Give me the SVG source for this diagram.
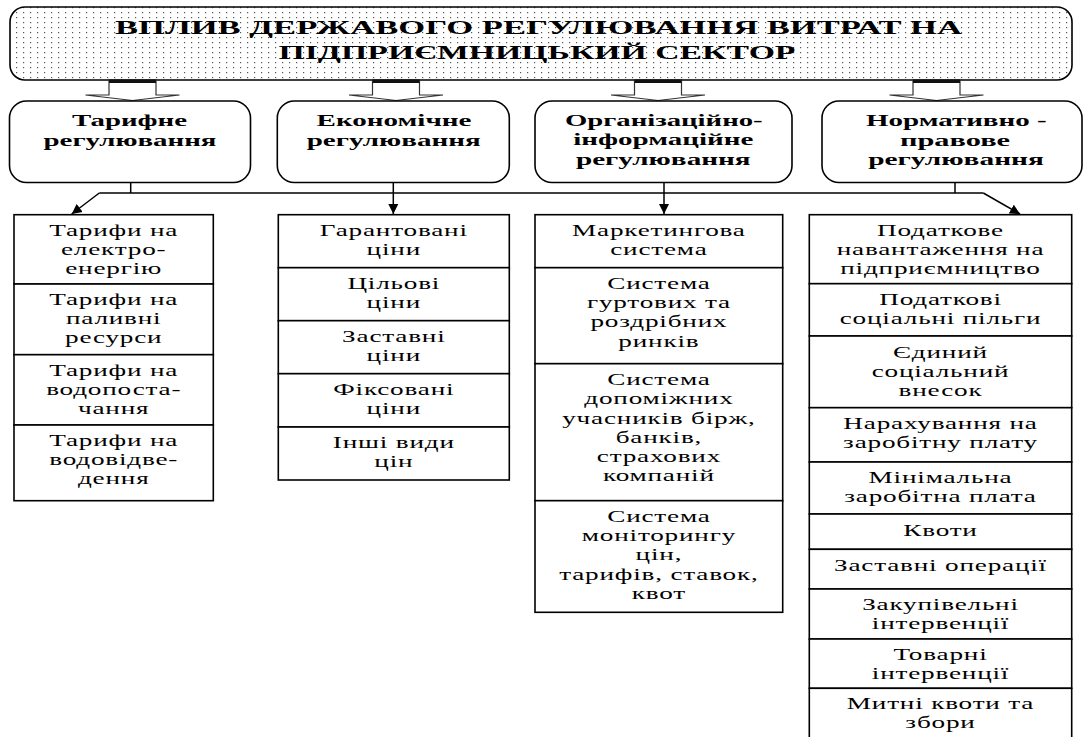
<svg xmlns="http://www.w3.org/2000/svg" width="1085" height="737" viewBox="0 0 1085 737">
<style>
.t{font-family:"Liberation Serif","Times New Roman",serif;font-size:17px;letter-spacing:0.5px;text-anchor:middle;fill:#000}
.h{font-family:"Liberation Serif","Times New Roman",serif;font-weight:bold;font-size:17px;text-anchor:middle;fill:#000}
.ti{font-family:"Liberation Serif","Times New Roman",serif;font-weight:bold;font-size:19px;text-anchor:middle;fill:#000}
.cell{fill:#fff;stroke:#000;stroke-width:1.6}
.hb{fill:#fff;stroke:#000;stroke-width:1.6}
.ln{fill:none;stroke:#000;stroke-width:1.5}
.ba{fill:#fff;stroke:#333;stroke-width:1.2}
.bar{fill:#111}
</style>
<defs>
<pattern id="dots" width="7" height="5" patternUnits="userSpaceOnUse">
<rect width="7" height="5" fill="#fff"/>
<rect x="2" y="2" width="1.2" height="1.2" fill="#555"/>
</pattern>
<marker id="ah" viewBox="0 0 10 10" refX="10" refY="5" markerUnits="userSpaceOnUse" markerWidth="10" markerHeight="11" orient="auto">
<path d="M0,0 L10,5 L0,10 z" fill="#000"/>
</marker>
</defs>
<rect width="1085" height="737" fill="#fff"/>

<g id="title">
<rect x="10" y="7" width="1062" height="73" rx="15" fill="url(#dots)" stroke="#000" stroke-width="1.6"/>
<text class="ti" x="538.5" y="34.3" textLength="847" lengthAdjust="spacingAndGlyphs">ВПЛИВ ДЕРЖАВОГО РЕГУЛЮВАННЯ ВИТРАТ НА</text>
<text class="ti" x="537" y="59.3" textLength="517" lengthAdjust="spacingAndGlyphs">ПІДПРИЄМНИЦЬКИЙ СЕКТОР</text>
</g>

<g id="connectors">
<polygon class="ba" points="109,80 109,95 85.5,95 132.5,100.5 179.5,95 156,95 156,80"/>
<rect class="bar" x="109" y="79.5" width="47" height="3.5"/>
<polygon class="ba" points="372.5,80 372.5,95 349,95 396,100.5 443,95 419.5,95 419.5,80"/>
<rect class="bar" x="372.5" y="79.5" width="47" height="3.5"/>
<polygon class="ba" points="634.5,80 634.5,95 611,95 658,100.5 705,95 681.5,95 681.5,80"/>
<rect class="bar" x="634.5" y="79.5" width="47" height="3.5"/>
<polygon class="ba" points="913,80 913,95 889.5,95 936.5,100.5 983.5,95 960,95 960,80"/>
<rect class="bar" x="913" y="79.5" width="47" height="3.5"/>

<line class="ln" x1="130.7" y1="182.5" x2="130.7" y2="193"/>
<line class="ln" x1="99.3" y1="193" x2="983.3" y2="193"/>
<line class="ln" x1="955" y1="182.5" x2="955" y2="193"/>
<line class="ln" x1="99.3" y1="193" x2="71.7" y2="214" marker-end="url(#ah)"/>
<line class="ln" x1="393.3" y1="182.5" x2="393.3" y2="214" marker-end="url(#ah)"/>
<line class="ln" x1="664" y1="182.5" x2="664" y2="214" marker-end="url(#ah)"/>
<line class="ln" x1="983.3" y1="193" x2="1020" y2="214" marker-end="url(#ah)"/>
</g>

<g id="h1">
<rect class="hb" x="9.5" y="101" width="241" height="81.5" rx="17"/>
<text class="h" x="129.5" y="126" textLength="115" lengthAdjust="spacingAndGlyphs">Тарифне</text>
<text class="h" x="130" y="146" textLength="173" lengthAdjust="spacingAndGlyphs">регулювання</text>
</g>
<g id="h2">
<rect class="hb" x="277.3" y="101" width="232" height="81.5" rx="17"/>
<text class="h" x="394" y="126" textLength="155" lengthAdjust="spacingAndGlyphs">Економічне</text>
<text class="h" x="393.7" y="146" textLength="174" lengthAdjust="spacingAndGlyphs">регулювання</text>
</g>
<g id="h3">
<rect class="hb" x="535" y="101" width="257" height="81.5" rx="17"/>
<text class="h" x="663.8" y="125.7" textLength="197.7" lengthAdjust="spacingAndGlyphs">Організаційно-</text>
<text class="h" x="663.3" y="145.3" textLength="180" lengthAdjust="spacingAndGlyphs">інформаційне</text>
<text class="h" x="663.3" y="164.7" textLength="174.7" lengthAdjust="spacingAndGlyphs">регулювання</text>
</g>
<g id="h4">
<rect class="hb" x="822" y="101" width="260" height="81.5" rx="17"/>
<text class="h" x="956.3" y="126" textLength="180.7" lengthAdjust="spacingAndGlyphs">Нормативно -</text>
<text class="h" x="955" y="146" textLength="110" lengthAdjust="spacingAndGlyphs">правове</text>
<text class="h" x="956" y="165" textLength="175.7" lengthAdjust="spacingAndGlyphs">регулювання</text>
</g>

<g id="col1">
<g id="c1a"><rect class="cell" x="14" y="214.7" width="199.3" height="69.3"/>
<text class="t" transform="translate(113.7 0) scale(1.6 1)"><tspan x="0" y="236">Тарифи на</tspan><tspan x="0" y="255">електро-</tspan><tspan x="0" y="274">енергію</tspan></text></g>
<g id="c1b"><rect class="cell" x="14" y="284" width="199.3" height="70.7"/>
<text class="t" transform="translate(113.7 0) scale(1.6 1)"><tspan x="0" y="305.5">Тарифи на</tspan><tspan x="0" y="324.5">паливні</tspan><tspan x="0" y="343.5">ресурси</tspan></text></g>
<g id="c1c"><rect class="cell" x="14" y="354.7" width="199.3" height="70.3"/>
<text class="t" transform="translate(113.7 0) scale(1.6 1)"><tspan x="0" y="376">Тарифи на</tspan><tspan x="0" y="395">водопоста-</tspan><tspan x="0" y="414">чання</tspan></text></g>
<g id="c1d"><rect class="cell" x="14" y="425" width="199.3" height="75.7"/>
<text class="t" transform="translate(113.7 0) scale(1.6 1)"><tspan x="0" y="446.5">Тарифи на</tspan><tspan x="0" y="465.5">водовідве-</tspan><tspan x="0" y="484.5">дення</tspan></text></g>
</g>

<g id="col2">
<g id="c2a"><rect class="cell" x="278.3" y="214.7" width="231" height="53"/>
<text class="t" transform="translate(393.8 0) scale(1.6 1)"><tspan x="0" y="236">Гарантовані</tspan><tspan x="0" y="255">ціни</tspan></text></g>
<g id="c2b"><rect class="cell" x="278.3" y="267.7" width="231" height="53"/>
<text class="t" transform="translate(393.8 0) scale(1.6 1)"><tspan x="0" y="289">Цільові</tspan><tspan x="0" y="308">ціни</tspan></text></g>
<g id="c2c"><rect class="cell" x="278.3" y="320.7" width="231" height="53"/>
<text class="t" transform="translate(393.8 0) scale(1.6 1)"><tspan x="0" y="342">Заставні</tspan><tspan x="0" y="361">ціни</tspan></text></g>
<g id="c2d"><rect class="cell" x="278.3" y="373.7" width="231" height="53.3"/>
<text class="t" transform="translate(393.8 0) scale(1.6 1)"><tspan x="0" y="395">Фіксовані</tspan><tspan x="0" y="414">ціни</tspan></text></g>
<g id="c2e"><rect class="cell" x="278.3" y="427" width="231" height="53"/>
<text class="t" transform="translate(393.8 0) scale(1.6 1)"><tspan x="0" y="448.3">Інші види</tspan><tspan x="0" y="467.3">цін</tspan></text></g>
</g>

<g id="col3">
<g id="c3a"><rect class="cell" x="535" y="214.7" width="247.7" height="53"/>
<text class="t" transform="translate(658.9 0) scale(1.6 1)"><tspan x="0" y="236">Маркетингова</tspan><tspan x="0" y="255">система</tspan></text></g>
<g id="c3b"><rect class="cell" x="535" y="267.7" width="247.7" height="96"/>
<text class="t" transform="translate(658.9 0) scale(1.6 1)"><tspan x="0" y="289">Система</tspan><tspan x="0" y="308.2">гуртових та</tspan><tspan x="0" y="327.4">роздрібних</tspan><tspan x="0" y="346.6">ринків</tspan></text></g>
<g id="c3c"><rect class="cell" x="535" y="363.7" width="247.7" height="137"/>
<text class="t" transform="translate(658.9 0) scale(1.6 1)"><tspan x="0" y="385">Система</tspan><tspan x="0" y="404.3">допоміжних</tspan><tspan x="0" y="423.6">учасників бірж,</tspan><tspan x="0" y="442.9">банків,</tspan><tspan x="0" y="462.2">страхових</tspan><tspan x="0" y="481.5">компаній</tspan></text></g>
<g id="c3d"><rect class="cell" x="535" y="500.7" width="247.7" height="111.6"/>
<text class="t" transform="translate(658.9 0) scale(1.6 1)"><tspan x="0" y="521.7">Система</tspan><tspan x="0" y="541">моніторингу</tspan><tspan x="0" y="560.3">цін,</tspan><tspan x="0" y="579.6">тарифів, ставок,</tspan><tspan x="0" y="598.9">квот</tspan></text></g>
</g>

<g id="col4">
<g id="c4a"><rect class="cell" x="809.3" y="214.7" width="262.4" height="69"/>
<text class="t" transform="translate(940.5 0) scale(1.6 1)"><tspan x="0" y="236">Податкове</tspan><tspan x="0" y="255">навантаження на</tspan><tspan x="0" y="274">підприємництво</tspan></text></g>
<g id="c4b"><rect class="cell" x="809.3" y="283.7" width="262.4" height="52.3"/>
<text class="t" transform="translate(940.5 0) scale(1.6 1)"><tspan x="0" y="305">Податкові</tspan><tspan x="0" y="324">соціальні пільги</tspan></text></g>
<g id="c4c"><rect class="cell" x="809.3" y="336" width="262.4" height="71.7"/>
<text class="t" transform="translate(940.5 0) scale(1.6 1)"><tspan x="0" y="357.7">Єдиний</tspan><tspan x="0" y="376.7">соціальний</tspan><tspan x="0" y="395.7">внесок</tspan></text></g>
<g id="c4d"><rect class="cell" x="809.3" y="407.7" width="262.4" height="54.3"/>
<text class="t" transform="translate(940.5 0) scale(1.6 1)"><tspan x="0" y="429.3">Нарахування на</tspan><tspan x="0" y="448.3">заробітну плату</tspan></text></g>
<g id="c4e"><rect class="cell" x="809.3" y="462" width="262.4" height="52"/>
<text class="t" transform="translate(940.5 0) scale(1.6 1)"><tspan x="0" y="483.3">Мінімальна</tspan><tspan x="0" y="502.3">заробітна плата</tspan></text></g>
<g id="c4f"><rect class="cell" x="809.3" y="514" width="262.4" height="35.3"/>
<text class="t" transform="translate(940.5 0) scale(1.6 1)"><tspan x="0" y="536.3">Квоти</tspan></text></g>
<g id="c4g"><rect class="cell" x="809.3" y="549.3" width="262.4" height="39.7"/>
<text class="t" transform="translate(940.5 0) scale(1.6 1)"><tspan x="0" y="571">Заставні операції</tspan></text></g>
<g id="c4h"><rect class="cell" x="809.3" y="589" width="262.4" height="50"/>
<text class="t" transform="translate(940.5 0) scale(1.6 1)"><tspan x="0" y="610.5">Закупівельні</tspan><tspan x="0" y="629.5">інтервенції</tspan></text></g>
<g id="c4i"><rect class="cell" x="809.3" y="639" width="262.4" height="49.3"/>
<text class="t" transform="translate(940.5 0) scale(1.6 1)"><tspan x="0" y="660">Товарні</tspan><tspan x="0" y="679">інтервенції</tspan></text></g>
<g id="c4j"><rect class="cell" x="809.3" y="688.3" width="262.4" height="52"/>
<text class="t" transform="translate(940.5 0) scale(1.6 1)"><tspan x="0" y="709.3">Митні квоти та</tspan><tspan x="0" y="728.3">збори</tspan></text></g>
</g>
</svg>
